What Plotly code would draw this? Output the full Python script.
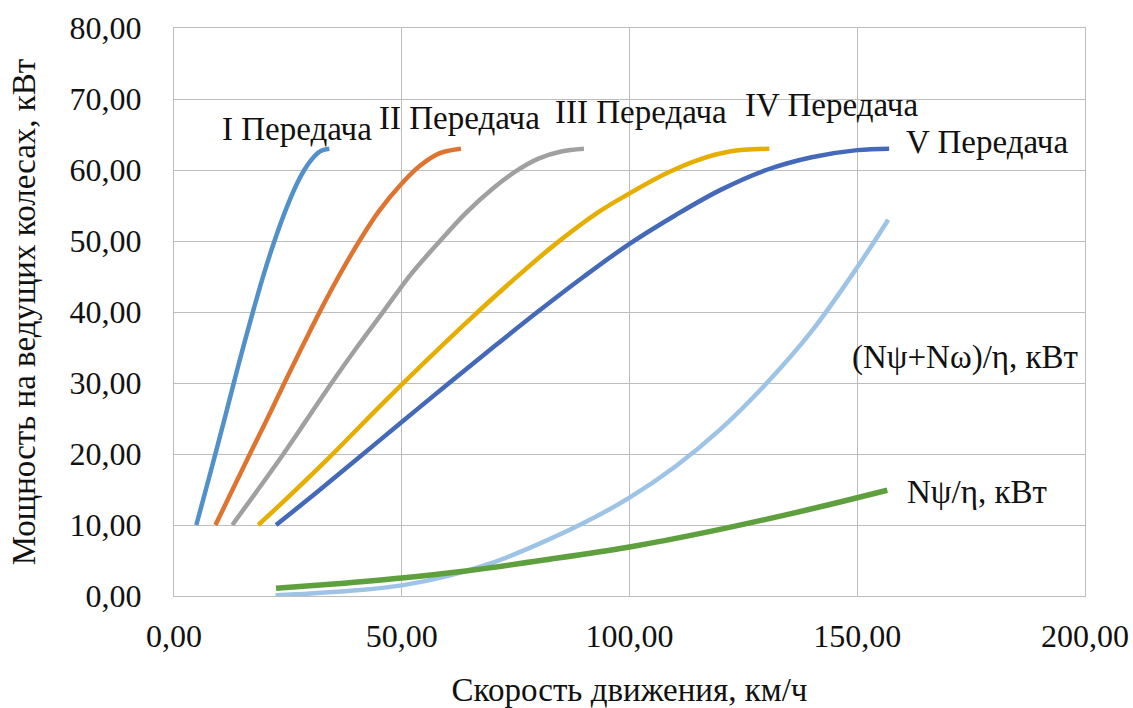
import plotly.graph_objects as go

# ---- data ----
g1_x = [4.9, 7.0, 9.2, 11.2, 13.2, 15.3, 17.4, 19.6, 22.0, 24.3, 26.5, 28.5, 30.5, 32.3, 34.1]
g1_y = [10, 15.0, 20.3, 25.2, 30.2, 35.3, 40.2, 45.1, 49.9, 54.0, 57.4, 59.9, 61.7, 62.7, 63.0]

g2_x = [9.1, 12.5, 16.5, 20.5, 24.4, 28.3, 32.3, 36.5, 40.8, 45, 50, 54, 58.5, 63]
g2_y = [10, 14.5, 19.8, 25.0, 30.2, 35.3, 40.4, 45.4, 50.1, 54.2, 58.1, 60.6, 62.4, 63.0]

g3_x = [12.8, 18, 23.9, 29, 34.6, 40, 46, 52, 58.4, 64, 70, 75, 80, 85, 90]
g3_y = [10, 14.6, 19.9, 24.7, 30.0, 34.9, 40.1, 45.3, 50.0, 53.9, 57.4, 59.8, 61.6, 62.6, 63.0]

g4_x = [18.5, 25, 35, 45, 55, 65, 75, 84, 93, 100, 108, 115, 122, 130.7]
g4_y = [10, 13.9, 20.1, 26.6, 32.9, 39.0, 44.8, 49.7, 54.0, 56.7, 59.5, 61.4, 62.6, 63.0]

g5_x = [22.4, 30, 40, 50, 60, 70, 80, 90, 100, 110, 120, 130, 140, 150, 157]
g5_y = [10, 13.9, 19.2, 24.5, 29.8, 35.0, 40.1, 45.0, 49.6, 53.6, 57.2, 60.0, 61.8, 62.8, 63.0]

res_x = [22.3, 30, 40, 50, 60, 70, 80, 90, 100, 110, 120, 130, 140, 150, 156.8]
res_y = [0.1, 0.35, 0.8, 1.5, 2.8, 4.7, 7.3, 10.3, 13.85, 18.2, 23.5, 29.9, 37.3, 46.3, 53.0]

psi_x = [22.4, 35, 50, 63.6, 81.6, 100, 117.5, 135.5, 146, 156.6]
psi_y = [1.08, 1.7, 2.55, 3.5, 5.1, 6.9, 9.06, 11.6, 13.2, 14.9]

x_ticks = [0, 50, 100, 150, 200]
x_tick_labels = ["0,00", "50,00", "100,00", "150,00", "200,00"]
y_ticks = [0, 10, 20, 30, 40, 50, 60, 70, 80]
y_tick_labels = ["0,00", "10,00", "20,00", "30,00", "40,00", "50,00", "60,00", "70,00", "80,00"]

labels = ["I Передача", "II Передача", "III Передача", "IV Передача", "V Передача",
          "(Nψ+Nω)/η, кВт", "Nψ/η, кВт"]
label_x = [27.0, 62.7, 102.6, 144.3, 178.5, 173.7, 176.3]
label_y = [65.8, 67.3, 68.2, 69.2, 63.9, 33.6, 14.6]

FONT = "Liberation Serif"

series = [
    (g1_x, g1_y, "#5190C8", 4.5),
    (g2_x, g2_y, "#DF7431", 4.5),
    (g3_x, g3_y, "#A0A0A0", 4.5),
    (g4_x, g4_y, "#E6AE00", 4.5),
    (g5_x, g5_y, "#4469B9", 4.5),
    (res_x, res_y, "#9DC3E6", 4.5),
    (psi_x, psi_y, "#5FA03E", 5.5),
]

fig = go.Figure()
for (xs, ys, col, w), name in zip(series, labels):
    fig.add_trace(go.Scatter(
        x=xs, y=ys, mode="lines", name=name,
        line=dict(color=col, width=w, shape="spline", smoothing=1.0),
        showlegend=False,
    ))

for t, lx, ly in zip(labels, label_x, label_y):
    fig.add_annotation(x=lx, y=ly, text=t, showarrow=False,
                       xanchor="center", yanchor="middle",
                       font=dict(family=FONT, size=33, color="#111111"))

fig.update_layout(
    width=1133, height=708,
    margin=dict(l=174, r=48, t=28, b=112),
    paper_bgcolor="white", plot_bgcolor="white",
    font=dict(family=FONT, color="#111111"),
    xaxis=dict(
        range=[0, 200], tickmode="array", tickvals=x_ticks, ticktext=x_tick_labels,
        showgrid=True, gridcolor="#BDBDBD", gridwidth=1.3,
        showline=True, linecolor="#BDBDBD", linewidth=1.3, mirror=True,
        zeroline=False, ticks="", ticklabelstandoff=11, automargin=False,
        tickfont=dict(family=FONT, size=32, color="#111111"),
        title=dict(text="Скорость движения, км/ч", standoff=25,
                   font=dict(family=FONT, size=33, color="#111111")),
    ),
    yaxis=dict(
        range=[0, 80], tickmode="array", tickvals=y_ticks, ticktext=y_tick_labels,
        showgrid=True, gridcolor="#BDBDBD", gridwidth=1.3,
        showline=True, linecolor="#BDBDBD", linewidth=1.3, mirror=True,
        zeroline=False, ticks="", ticklabelstandoff=25, automargin=False,
        tickfont=dict(family=FONT, size=32, color="#111111"),
        title=dict(text="Мощность на ведущих колесах, кВт", standoff=23,
                   font=dict(family=FONT, size=33, color="#111111")),
    ),
)

fig.write_html("out.html")
